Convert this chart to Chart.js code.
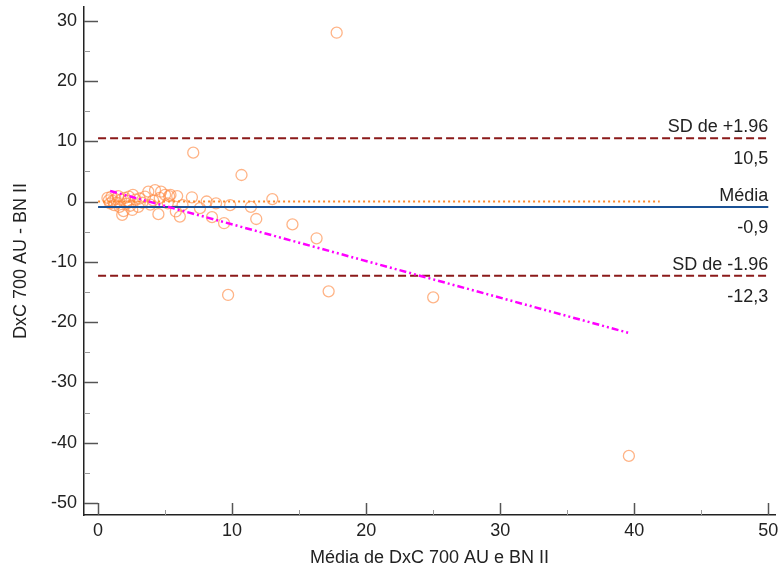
<!DOCTYPE html>
<html>
<head>
<meta charset="utf-8">
<script src="https://cdn.jsdelivr.net/npm/chart.js@4"></script>
<style>
html,body{margin:0;padding:0;background:#fff;}
#wrap{width:782px;height:574px;}
</style>
</head>
<body>
<div id="wrap"><canvas id="c" width="782" height="574"></canvas></div>
<script>
// Data: mean of the two methods (x) and difference (y)
const meanVals = [0.7,0.8,0.9,1.0,1.1,1.2,1.3,1.4,1.5,1.6,1.7,1.8,1.9,2.0,2.1,2.2,2.3,2.4,2.55,2.6,2.8,3.0,3.1,3.3,3.5,3.75,3.9,4.1,4.25,4.5,4.6,4.7,5.0,5.2,5.3,5.4,5.8,5.9,6.1,6.3,7.0,7.1,7.6,8.1,8.5,8.8,9.4,9.7,9.85,10.7,11.4,11.8,13.0,14.5,16.3,17.2,17.8,25.0,39.6];
const diffVals = [0.6,0.2,-0.3,0.8,0.1,-0.6,0.4,-0.2,0.9,-0.9,0.3,-2.2,-1.6,0.6,-0.4,0.1,0.8,-0.7,-1.4,1.1,0.3,-0.9,0.5,-0.2,0.8,1.65,-0.5,0.2,1.9,-2.1,0.6,1.65,1.1,-0.3,0.9,1.1,-1.65,0.9,-2.5,-0.6,0.7,8.1,-1.1,0.0,-2.6,-0.3,-3.6,-15.5,-0.6,4.4,-0.9,-2.9,0.4,-3.8,-6.1,-14.9,28.0,-15.9,-42.2];

const refValues = [10.5, -0.9, -12.3];
const refLabelsAbove = ['SD de +1.96', 'Média', 'SD de -1.96'];
const refLabelsBelow = ['10,5', '-0,9', '-12,3'];

const zeroLineX = [0, 41.9];
const refLineX = [0, 50];
const regrX = [0.9, 39.6];
const regrY = [1.75, -21.8];

const xTicks = [0,10,20,30,40,50];
const xMinor = [5,15,25,35,45];
const yTicks = [-50,-40,-30,-20,-10,0,10,20,30];
const yMinor = [-45,-35,-25,-15,-5,5,15,25];

const FONT = 'Liberation Sans, Arial, sans-serif';
const FS = 18;

const points = meanVals.map((x,i)=>({x:x, y:diffVals[i]}));

const refLinesPlugin = {
  id:'refText',
  afterDatasetsDraw(chart){
    const {ctx, scales:{x,y}} = chart;
    ctx.save();
    ctx.font = FS + 'px ' + FONT;
    ctx.fillStyle = '#222';
    ctx.textAlign = 'right';
    const xr = x.getPixelForValue(50);
    refValues.forEach((v,i)=>{
      const py = y.getPixelForValue(v);
      ctx.textBaseline = 'alphabetic';
      ctx.fillText(refLabelsAbove[i], xr, py - 6);
      ctx.fillText(refLabelsBelow[i], xr, py + 26);
    });
    ctx.restore();
  },
  afterDraw(chart){
    const {ctx, scales:{x,y}} = chart;
    const bottom = chart.chartArea.bottom;
    const left = chart.chartArea.left;
    ctx.save();
    ctx.strokeStyle = '#555';
    ctx.lineWidth = 1.5;
    xTicks.forEach(v=>{
      const px = Math.round(x.getPixelForValue(v))+0.5;
      ctx.beginPath(); ctx.moveTo(px,bottom); ctx.lineTo(px,bottom-12); ctx.stroke();
    });
    yTicks.forEach(v=>{
      const py = Math.round(y.getPixelForValue(v))+0.5;
      ctx.beginPath(); ctx.moveTo(left,py); ctx.lineTo(left+14,py); ctx.stroke();
    });
    ctx.lineWidth = 1;
    ctx.strokeStyle = '#999';
    xMinor.forEach(v=>{
      const px = Math.round(x.getPixelForValue(v))+0.5;
      ctx.beginPath(); ctx.moveTo(px,bottom); ctx.lineTo(px,bottom-5); ctx.stroke();
    });
    yMinor.forEach(v=>{
      const py = Math.round(y.getPixelForValue(v))+0.5;
      ctx.beginPath(); ctx.moveTo(left,py); ctx.lineTo(left+6,py); ctx.stroke();
    });
    ctx.restore();
  }
};

new Chart(document.getElementById('c'), {
  type:'scatter',
  data:{
    datasets:[
      {type:'line', data: regrX.map((x,i)=>({x:x,y:regrY[i]})), borderColor:'#ff00ff', borderWidth:2.5,
        borderDash:[7,3,2,3,2,3], pointRadius:0, fill:false},
      {type:'line', data: zeroLineX.map(x=>({x:x,y:0})), borderColor:'#ff8a2a', borderWidth:2.2,
        borderDash:[2,3], pointRadius:0, fill:false},
      {type:'line', data: refLineX.map(x=>({x:x,y:refValues[1]})), borderColor:'#1a5296', borderWidth:2,
        pointRadius:0, fill:false},
      {type:'line', data: refLineX.map(x=>({x:x,y:refValues[0]})), borderColor:'#8b1a1a', borderWidth:2,
        borderDash:[8,4], pointRadius:0, fill:false},
      {type:'line', data: refLineX.map(x=>({x:x,y:refValues[2]})), borderColor:'#8b1a1a', borderWidth:2,
        borderDash:[8,4], pointRadius:0, fill:false},
      {data: points, pointRadius:5.5, pointStyle:'circle', borderColor:'rgba(255,140,70,0.65)',
        backgroundColor:'rgba(255,255,255,0)', borderWidth:1.3, pointHoverRadius:5.5}
    ]
  },
  options:{
    responsive:false,
    animation:false,
    layout:{padding:{top:4,right:7,left:0,bottom:0}},
    plugins:{legend:{display:false}, tooltip:{enabled:false}},
    scales:{
      x:{
        type:'linear', min:-1.05, max:50.5,
        afterBuildTicks:(s)=>{ s.ticks = xTicks.map(v=>({value:v})); },
        afterFit:(s)=>{ s.height = 59; s.paddingLeft = 0; s.paddingRight = 0; },
        grid:{display:true, drawOnChartArea:false, drawTicks:false},
        border:{display:true, color:'#222', width:1.5},
        ticks:{color:'#222', font:{family:FONT, size:FS}, padding:5, maxRotation:0, autoSkip:false},
        title:{display:true, text:'Média de DxC 700 AU e BN II', color:'#222', font:{family:FONT, size:FS}, padding:{top:2,bottom:5}}
      },
      y:{
        type:'linear', min:-52, max:32.3,
        afterBuildTicks:(s)=>{ s.ticks = yTicks.map(v=>({value:v})); },
        afterFit:(s)=>{ s.width = 84; s.paddingTop = 0; s.paddingBottom = 0; },
        grid:{display:true, drawOnChartArea:false, drawTicks:false},
        border:{display:true, color:'#222', width:1.5},
        ticks:{color:'#222', font:{family:FONT, size:FS}, padding:7, autoSkip:false},
        title:{display:true, text:'DxC 700 AU - BN II', color:'#222', font:{family:FONT, size:FS}, padding:{top:10,bottom:4}}
      }
    }
  },
  plugins:[refLinesPlugin]
});
</script>
</body>
</html>
